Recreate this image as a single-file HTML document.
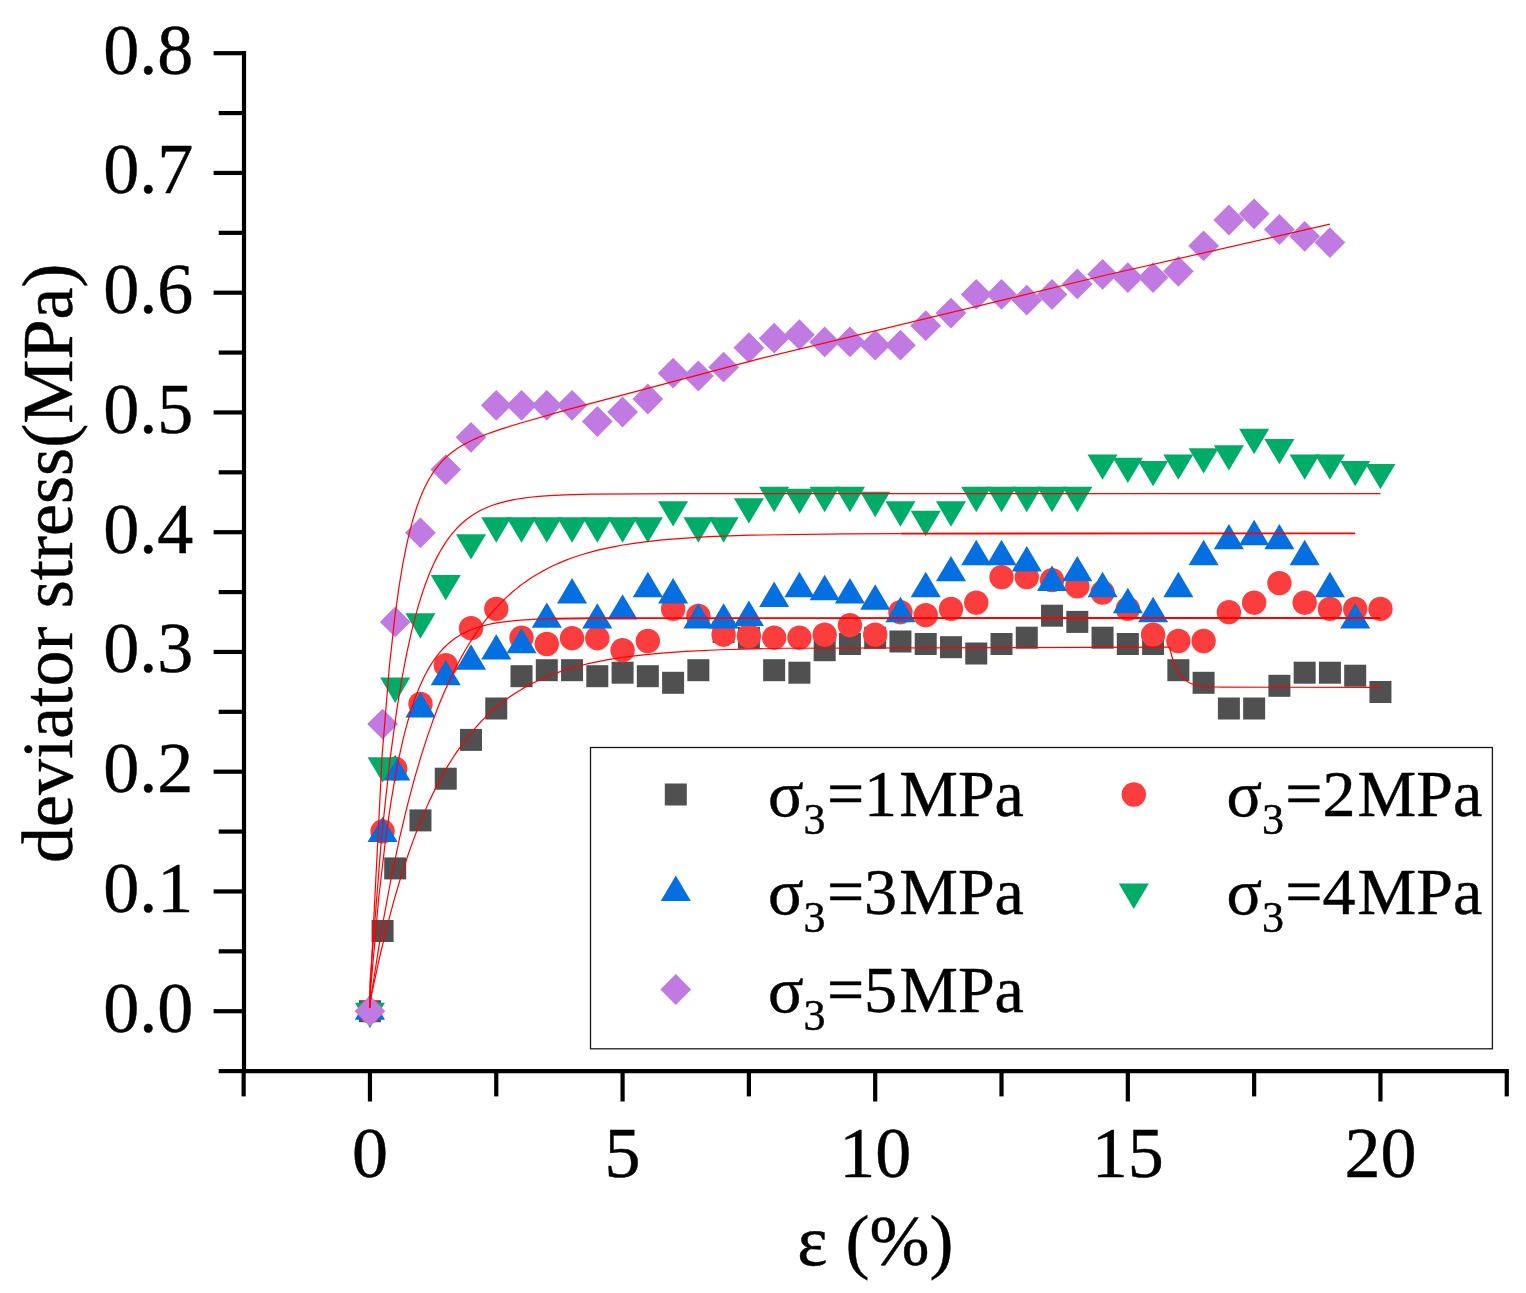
<!DOCTYPE html>
<html lang="en"><head><meta charset="utf-8"><title>deviator stress vs strain</title>
<style>html,body{margin:0;padding:0;background:#fff;}svg{display:block;}text{font-family:"Liberation Serif",serif;fill:#000;stroke:#000;stroke-width:0.45px;stroke-linejoin:round;}</style></head><body>
<svg width="1526" height="1293" viewBox="0 0 1526 1293">
<rect x="0" y="0" width="1526" height="1293" fill="#fff"/>
<g fill="#505050">
<rect x="358.95" y="1000.2" width="22" height="22"/>
<rect x="371.58" y="920" width="22" height="22"/>
<rect x="384.21" y="857.4" width="22" height="22"/>
<rect x="409.47" y="809.4" width="22" height="22"/>
<rect x="434.74" y="767.7" width="22" height="22"/>
<rect x="460" y="728.9" width="22" height="22"/>
<rect x="485.26" y="697.5" width="22" height="22"/>
<rect x="510.52" y="665.2" width="22" height="22"/>
<rect x="535.79" y="659.2" width="22" height="22"/>
<rect x="561.05" y="659.2" width="22" height="22"/>
<rect x="586.31" y="665.2" width="22" height="22"/>
<rect x="611.58" y="661.7" width="22" height="22"/>
<rect x="636.84" y="665.2" width="22" height="22"/>
<rect x="662.1" y="671.8" width="22" height="22"/>
<rect x="687.36" y="659.2" width="22" height="22"/>
<rect x="712.62" y="620.9" width="22" height="22"/>
<rect x="737.89" y="626.8" width="22" height="22"/>
<rect x="763.15" y="659.2" width="22" height="22"/>
<rect x="788.41" y="661.7" width="22" height="22"/>
<rect x="813.67" y="639.2" width="22" height="22"/>
<rect x="838.94" y="633" width="22" height="22"/>
<rect x="864.2" y="626.8" width="22" height="22"/>
<rect x="889.46" y="630.5" width="22" height="22"/>
<rect x="914.72" y="633" width="22" height="22"/>
<rect x="939.99" y="636.2" width="22" height="22"/>
<rect x="965.25" y="642.5" width="22" height="22"/>
<rect x="990.51" y="633" width="22" height="22"/>
<rect x="1015.77" y="626.7" width="22" height="22"/>
<rect x="1041.04" y="604.7" width="22" height="22"/>
<rect x="1066.3" y="610.9" width="22" height="22"/>
<rect x="1091.56" y="626.7" width="22" height="22"/>
<rect x="1116.83" y="633" width="22" height="22"/>
<rect x="1142.09" y="633" width="22" height="22"/>
<rect x="1167.35" y="659.2" width="22" height="22"/>
<rect x="1192.61" y="671.8" width="22" height="22"/>
<rect x="1217.88" y="697.5" width="22" height="22"/>
<rect x="1243.14" y="697.5" width="22" height="22"/>
<rect x="1268.4" y="674.8" width="22" height="22"/>
<rect x="1293.66" y="661.7" width="22" height="22"/>
<rect x="1318.92" y="661.7" width="22" height="22"/>
<rect x="1344.19" y="664.7" width="22" height="22"/>
<rect x="1369.45" y="681" width="22" height="22"/>
</g>
<g fill="#fc3d3d">
<circle cx="369.95" cy="1011.2" r="12.2"/>
<circle cx="382.58" cy="831.4" r="12.2"/>
<circle cx="395.21" cy="768.7" r="12.2"/>
<circle cx="420.47" cy="704" r="12.2"/>
<circle cx="445.74" cy="665.2" r="12.2"/>
<circle cx="471" cy="628.2" r="12.2"/>
<circle cx="496.26" cy="608.9" r="12.2"/>
<circle cx="521.52" cy="637.7" r="12.2"/>
<circle cx="546.79" cy="644" r="12.2"/>
<circle cx="572.05" cy="638.2" r="12.2"/>
<circle cx="597.31" cy="638.2" r="12.2"/>
<circle cx="622.58" cy="650.2" r="12.2"/>
<circle cx="647.84" cy="641" r="12.2"/>
<circle cx="673.1" cy="608.9" r="12.2"/>
<circle cx="698.36" cy="615.9" r="12.2"/>
<circle cx="723.62" cy="634.7" r="12.2"/>
<circle cx="748.89" cy="636" r="12.2"/>
<circle cx="774.15" cy="637.7" r="12.2"/>
<circle cx="799.41" cy="637.7" r="12.2"/>
<circle cx="824.67" cy="634.7" r="12.2"/>
<circle cx="849.94" cy="625.2" r="12.2"/>
<circle cx="875.2" cy="634.7" r="12.2"/>
<circle cx="900.46" cy="612.2" r="12.2"/>
<circle cx="925.72" cy="615.2" r="12.2"/>
<circle cx="950.99" cy="608.9" r="12.2"/>
<circle cx="976.25" cy="602.7" r="12.2"/>
<circle cx="1001.51" cy="577.1" r="12.2"/>
<circle cx="1026.77" cy="577.1" r="12.2"/>
<circle cx="1052.04" cy="580.1" r="12.2"/>
<circle cx="1077.3" cy="586.4" r="12.2"/>
<circle cx="1102.56" cy="592.6" r="12.2"/>
<circle cx="1127.83" cy="608.9" r="12.2"/>
<circle cx="1153.09" cy="634.7" r="12.2"/>
<circle cx="1178.35" cy="641" r="12.2"/>
<circle cx="1203.61" cy="641" r="12.2"/>
<circle cx="1228.88" cy="612.2" r="12.2"/>
<circle cx="1254.14" cy="602.7" r="12.2"/>
<circle cx="1279.4" cy="583.1" r="12.2"/>
<circle cx="1304.66" cy="602.7" r="12.2"/>
<circle cx="1329.92" cy="608.9" r="12.2"/>
<circle cx="1355.19" cy="608.9" r="12.2"/>
<circle cx="1380.45" cy="608.9" r="12.2"/>
</g>
<g fill="#046fe0">
<path d="M369.95 994.27L385 1019.67L354.9 1019.67Z"/>
<path d="M382.58 816.67L397.63 842.07L367.53 842.07Z"/>
<path d="M395.21 755.07L410.26 780.47L380.16 780.47Z"/>
<path d="M420.47 692.07L435.52 717.47L405.42 717.47Z"/>
<path d="M445.74 659.97L460.79 685.37L430.69 685.37Z"/>
<path d="M471 644.27L486.05 669.67L455.95 669.67Z"/>
<path d="M496.26 634.17L511.31 659.57L481.21 659.57Z"/>
<path d="M521.52 627.97L536.57 653.37L506.47 653.37Z"/>
<path d="M546.79 602.47L561.84 627.87L531.74 627.87Z"/>
<path d="M572.05 578.07L587.1 603.47L557 603.47Z"/>
<path d="M597.31 603.17L612.36 628.57L582.26 628.57Z"/>
<path d="M622.58 594.17L637.62 619.57L607.53 619.57Z"/>
<path d="M647.84 571.87L662.89 597.27L632.79 597.27Z"/>
<path d="M673.1 578.07L688.15 603.47L658.05 603.47Z"/>
<path d="M698.36 603.17L713.41 628.57L683.31 628.57Z"/>
<path d="M723.62 603.17L738.67 628.57L708.58 628.57Z"/>
<path d="M748.89 600.57L763.94 625.97L733.84 625.97Z"/>
<path d="M774.15 581.57L789.2 606.97L759.1 606.97Z"/>
<path d="M799.41 571.77L814.46 597.17L784.36 597.17Z"/>
<path d="M824.67 574.77L839.72 600.17L809.62 600.17Z"/>
<path d="M849.94 578.07L864.99 603.47L834.89 603.47Z"/>
<path d="M875.2 584.27L890.25 609.67L860.15 609.67Z"/>
<path d="M900.46 596.87L915.51 622.27L885.41 622.27Z"/>
<path d="M925.72 571.77L940.77 597.17L910.67 597.17Z"/>
<path d="M950.99 555.97L966.04 581.37L935.94 581.37Z"/>
<path d="M976.25 539.77L991.3 565.17L961.2 565.17Z"/>
<path d="M1001.51 539.77L1016.56 565.17L986.46 565.17Z"/>
<path d="M1026.77 546.07L1041.82 571.47L1011.72 571.47Z"/>
<path d="M1052.04 565.57L1067.09 590.97L1036.99 590.97Z"/>
<path d="M1077.3 555.97L1092.35 581.37L1062.25 581.37Z"/>
<path d="M1102.56 571.77L1117.61 597.17L1087.51 597.17Z"/>
<path d="M1127.83 587.77L1142.88 613.17L1112.78 613.17Z"/>
<path d="M1153.09 596.87L1168.14 622.27L1138.04 622.27Z"/>
<path d="M1178.35 571.77L1193.4 597.17L1163.3 597.17Z"/>
<path d="M1203.61 539.77L1218.66 565.17L1188.56 565.17Z"/>
<path d="M1228.88 523.97L1243.92 549.37L1213.83 549.37Z"/>
<path d="M1254.14 519.77L1269.19 545.17L1239.09 545.17Z"/>
<path d="M1279.4 523.97L1294.45 549.37L1264.35 549.37Z"/>
<path d="M1304.66 539.77L1319.71 565.17L1289.61 565.17Z"/>
<path d="M1329.92 571.77L1344.97 597.17L1314.88 597.17Z"/>
<path d="M1355.19 603.17L1370.24 628.57L1340.14 628.57Z"/>
</g>
<g fill="#00ad68">
<path d="M354.9 1002.73L385 1002.73L369.95 1028.13Z"/>
<path d="M367.53 757.13L397.63 757.13L382.58 782.53Z"/>
<path d="M380.16 677.53L410.26 677.53L395.21 702.93Z"/>
<path d="M405.42 613.23L435.52 613.23L420.47 638.63Z"/>
<path d="M430.69 574.93L460.79 574.93L445.74 600.33Z"/>
<path d="M455.95 534.13L486.05 534.13L471 559.53Z"/>
<path d="M481.21 517.33L511.31 517.33L496.26 542.73Z"/>
<path d="M506.47 517.33L536.57 517.33L521.52 542.73Z"/>
<path d="M531.74 517.33L561.84 517.33L546.79 542.73Z"/>
<path d="M557 517.33L587.1 517.33L572.05 542.73Z"/>
<path d="M582.26 517.33L612.36 517.33L597.31 542.73Z"/>
<path d="M607.53 517.33L637.62 517.33L622.58 542.73Z"/>
<path d="M632.79 517.33L662.89 517.33L647.84 542.73Z"/>
<path d="M658.05 501.13L688.15 501.13L673.1 526.53Z"/>
<path d="M683.31 517.33L713.41 517.33L698.36 542.73Z"/>
<path d="M708.58 517.33L738.67 517.33L723.62 542.73Z"/>
<path d="M733.84 498.13L763.94 498.13L748.89 523.53Z"/>
<path d="M759.1 486.83L789.2 486.83L774.15 512.23Z"/>
<path d="M784.36 488.63L814.46 488.63L799.41 514.03Z"/>
<path d="M809.62 486.83L839.72 486.83L824.67 512.23Z"/>
<path d="M834.89 486.83L864.99 486.83L849.94 512.23Z"/>
<path d="M860.15 491.83L890.25 491.83L875.2 517.23Z"/>
<path d="M885.41 501.33L915.51 501.33L900.46 526.73Z"/>
<path d="M910.67 510.83L940.77 510.83L925.72 536.23Z"/>
<path d="M935.94 501.33L966.04 501.33L950.99 526.73Z"/>
<path d="M961.2 486.83L991.3 486.83L976.25 512.23Z"/>
<path d="M986.46 486.83L1016.56 486.83L1001.51 512.23Z"/>
<path d="M1011.72 486.83L1041.82 486.83L1026.77 512.23Z"/>
<path d="M1036.99 486.83L1067.09 486.83L1052.04 512.23Z"/>
<path d="M1062.25 486.83L1092.35 486.83L1077.3 512.23Z"/>
<path d="M1087.51 454.43L1117.61 454.43L1102.56 479.83Z"/>
<path d="M1112.78 457.63L1142.88 457.63L1127.83 483.03Z"/>
<path d="M1138.04 460.93L1168.14 460.93L1153.09 486.33Z"/>
<path d="M1163.3 454.43L1193.4 454.43L1178.35 479.83Z"/>
<path d="M1188.56 448.13L1218.66 448.13L1203.61 473.53Z"/>
<path d="M1213.83 445.13L1243.92 445.13L1228.88 470.53Z"/>
<path d="M1239.09 428.83L1269.19 428.83L1254.14 454.23Z"/>
<path d="M1264.35 438.93L1294.45 438.93L1279.4 464.33Z"/>
<path d="M1289.61 454.43L1319.71 454.43L1304.66 479.83Z"/>
<path d="M1314.88 454.43L1344.97 454.43L1329.92 479.83Z"/>
<path d="M1340.14 460.93L1370.24 460.93L1355.19 486.33Z"/>
<path d="M1365.4 463.93L1395.5 463.93L1380.45 489.33Z"/>
</g>
<g fill="#c17ae2">
<path d="M369.95 995.8L385.35 1011.2L369.95 1026.6L354.55 1011.2Z"/>
<path d="M382.58 708.7L397.98 724.1L382.58 739.5L367.18 724.1Z"/>
<path d="M395.21 606.5L410.61 621.9L395.21 637.3L379.81 621.9Z"/>
<path d="M420.47 517.4L435.87 532.8L420.47 548.2L405.07 532.8Z"/>
<path d="M445.74 454.2L461.14 469.6L445.74 485L430.34 469.6Z"/>
<path d="M471 421.9L486.4 437.3L471 452.7L455.6 437.3Z"/>
<path d="M496.26 389.9L511.66 405.3L496.26 420.7L480.86 405.3Z"/>
<path d="M521.52 389.9L536.92 405.3L521.52 420.7L506.12 405.3Z"/>
<path d="M546.79 389.9L562.19 405.3L546.79 420.7L531.39 405.3Z"/>
<path d="M572.05 389.9L587.45 405.3L572.05 420.7L556.65 405.3Z"/>
<path d="M597.31 406.1L612.71 421.5L597.31 436.9L581.91 421.5Z"/>
<path d="M622.58 396.6L637.98 412L622.58 427.4L607.18 412Z"/>
<path d="M647.84 383.6L663.24 399L647.84 414.4L632.44 399Z"/>
<path d="M673.1 357.8L688.5 373.2L673.1 388.6L657.7 373.2Z"/>
<path d="M698.36 360.6L713.76 376L698.36 391.4L682.96 376Z"/>
<path d="M723.62 351.8L739.02 367.2L723.62 382.6L708.23 367.2Z"/>
<path d="M748.89 332.3L764.29 347.7L748.89 363.1L733.49 347.7Z"/>
<path d="M774.15 322.8L789.55 338.2L774.15 353.6L758.75 338.2Z"/>
<path d="M799.41 319.3L814.81 334.7L799.41 350.1L784.01 334.7Z"/>
<path d="M824.67 326.5L840.07 341.9L824.67 357.3L809.27 341.9Z"/>
<path d="M849.94 326.5L865.34 341.9L849.94 357.3L834.54 341.9Z"/>
<path d="M875.2 329.8L890.6 345.2L875.2 360.6L859.8 345.2Z"/>
<path d="M900.46 329.8L915.86 345.2L900.46 360.6L885.06 345.2Z"/>
<path d="M925.72 310.3L941.12 325.7L925.72 341.1L910.32 325.7Z"/>
<path d="M950.99 297.7L966.39 313.1L950.99 328.5L935.59 313.1Z"/>
<path d="M976.25 279L991.65 294.4L976.25 309.8L960.85 294.4Z"/>
<path d="M1001.51 279L1016.91 294.4L1001.51 309.8L986.11 294.4Z"/>
<path d="M1026.77 284.7L1042.17 300.1L1026.77 315.5L1011.37 300.1Z"/>
<path d="M1052.04 279L1067.44 294.4L1052.04 309.8L1036.64 294.4Z"/>
<path d="M1077.3 268.5L1092.7 283.9L1077.3 299.3L1061.9 283.9Z"/>
<path d="M1102.56 258.9L1117.96 274.3L1102.56 289.7L1087.16 274.3Z"/>
<path d="M1127.83 262.2L1143.23 277.6L1127.83 293L1112.42 277.6Z"/>
<path d="M1153.09 262.2L1168.49 277.6L1153.09 293L1137.69 277.6Z"/>
<path d="M1178.35 255.9L1193.75 271.3L1178.35 286.7L1162.95 271.3Z"/>
<path d="M1203.61 230.4L1219.01 245.8L1203.61 261.2L1188.21 245.8Z"/>
<path d="M1228.88 204.6L1244.28 220L1228.88 235.4L1213.47 220Z"/>
<path d="M1254.14 198.4L1269.54 213.8L1254.14 229.2L1238.74 213.8Z"/>
<path d="M1279.4 214.1L1294.8 229.5L1279.4 244.9L1264 229.5Z"/>
<path d="M1304.66 220.9L1320.06 236.3L1304.66 251.7L1289.26 236.3Z"/>
<path d="M1329.92 227.2L1345.33 242.6L1329.92 258L1314.52 242.6Z"/>
</g>
<g fill="none" stroke="#ff0000" stroke-width="1.2" stroke-linejoin="round">
<path d="M369.8 1007.8L369.95 1002.18L378.95 960.01L386.94 926.75L394.34 899.14L401.13 876.18L407.33 857.07L413.13 840.64L418.72 826L423.92 813.4L428.92 802.12L433.91 791.61L438.71 782.19L443.31 773.74L447.71 766.15L452.1 759.02L456.3 752.61L460.5 746.57L464.7 740.87L468.7 735.75L472.69 730.91L476.69 726.33L480.69 722.01L484.69 717.92L488.68 714.05L492.68 710.4L496.68 706.94L500.68 703.68L504.68 700.59L508.87 697.53L513.27 694.51L517.67 691.67L522.27 688.89L526.86 686.28L531.66 683.73L536.66 681.25L541.85 678.85L547.25 676.53L552.85 674.31L558.85 672.12L565.24 669.97L572.04 667.9L579.23 665.9L587.03 663.96L595.63 662.05L605.22 660.17L616.01 658.35L628.61 656.53L643.4 654.78L661.79 653.05L685.78 651.37L720.56 649.75L783.72 648.24L1161.31 647.19L1169.51 647.19L1169.51 647.19L1170.67 651.95L1171.72 655.78L1172.72 659.04L1173.67 661.82L1174.57 664.19L1175.47 666.34L1176.31 668.18L1177.15 669.86L1178 671.39L1178.79 672.7L1179.63 673.99L1180.42 675.09L1181.22 676.1L1182.06 677.08L1182.9 677.98L1183.75 678.8L1184.64 679.59L1185.54 680.31L1186.44 680.97L1187.39 681.59L1188.39 682.18L1189.44 682.74L1190.5 683.24L1191.6 683.7L1192.76 684.14L1194.03 684.55L1195.4 684.93L1196.93 685.3L1198.62 685.64L1200.52 685.96L1202.73 686.25L1205.42 686.53L1208.9 686.78L1213.91 687.02L1223.3 687.22L1380.45 687.34"/>
<path d="M369.8 1007.8L369.95 996.42L378.73 897.98L385.41 840.57L390.82 802.83L395.37 776.12L399.33 756.03L402.87 740.2L406.1 727.38L409.06 716.82L411.83 707.84L414.38 700.32L416.79 693.78L419.06 688.09L421.29 682.92L423.38 678.42L425.43 674.32L427.43 670.58L429.38 667.16L431.25 664.11L433.11 661.25L434.98 658.57L436.79 656.11L438.57 653.86L440.34 651.74L442.16 649.69L443.98 647.77L445.75 646.01L447.53 644.35L449.39 642.72L451.25 641.18L453.12 639.74L455.03 638.36L457.03 637L459.08 635.71L461.17 634.48L463.31 633.31L465.53 632.18L467.81 631.11L470.26 630.05L472.81 629.04L475.49 628.06L478.36 627.12L481.4 626.21L484.68 625.33L488.27 624.47L492.23 623.64L496.68 622.84L501.77 622.05L507.73 621.3L514.96 620.56L524.24 619.85L537.29 619.16L551.84 618.69"/>
<path stroke-width="1.9" d="M551.84 618.69L596.17 618.11L1380.45 617.95"/>
<path d="M369.8 1007.8L369.95 1003.25L381.36 931.13L391.17 878.01L399.79 837.23L407.48 804.93L414.51 778.43L421.14 755.81L427.25 736.84L432.95 720.58L438.39 706.28L443.43 694.01L448.33 682.9L452.98 673.1L457.48 664.19L461.86 656.09L466.11 648.71L470.22 641.99L474.33 635.66L478.31 629.88L482.29 624.43L486.13 619.46L489.98 614.75L493.82 610.31L497.67 606.1L501.38 602.26L505.1 598.63L508.81 595.18L512.66 591.8L516.5 588.61L520.35 585.59L524.33 582.64L528.44 579.77L532.55 577.07L536.8 574.44L541.17 571.9L545.68 569.44L550.32 567.08L555.1 564.81L560.14 562.58L565.44 560.4L571.01 558.29L576.85 556.25L583.08 554.26L589.71 552.33L596.88 550.45L604.7 548.6L613.32 546.8L623 545.03L634.01 543.3L646.88 541.6L662.4 539.93L682.02 538.3L708.68 536.71L750.33 535.19L844.49 533.83L900.46 533.58"/>
<path stroke-width="1.9" d="M900.46 533.58L1355.19 533.37"/>
<path d="M369.8 1007.8L369.95 982.82L381.57 837.09L389.91 760.11L396.48 711.82L402.03 677.86L406.83 652.81L411.13 633.3L414.92 618.08L418.45 605.37L421.74 594.74L424.77 585.82L427.55 578.34L430.33 571.46L432.85 565.7L435.38 560.36L437.65 555.89L439.93 551.73L442.2 547.84L444.73 543.82L447 540.46L449.27 537.32L451.55 534.4L453.82 531.67L456.1 529.12L458.37 526.74L460.64 524.52L462.92 522.45L465.19 520.52L467.46 518.71L469.74 517.03L472.01 515.46L474.28 514L476.81 512.48L479.34 511.08L481.86 509.78L484.64 508.47L487.42 507.26L490.45 506.05L493.48 504.95L496.77 503.86L500.3 502.81L504.09 501.8L508.14 500.85L512.68 499.9L517.74 499L523.55 498.11L530.37 497.26L538.7 496.42L549.57 495.61L564.72 494.85L591 494.13L688.51 493.57L1380.45 493.54"/>
<path d="M369.8 1007.8L369.95 994.14L382.19 754.33L389.39 666.32L394.91 616.43L399.23 585.44L402.83 563.95L406.19 546.86L409.07 534.15L411.71 523.87L414.11 515.51L416.51 508L418.67 501.87L420.83 496.3L422.75 491.75L424.67 487.57L426.59 483.7L428.27 480.56L430.19 477.22L432.11 474.13L434.03 471.26L435.95 468.6L437.87 466.13L439.79 463.83L441.71 461.68L443.63 459.67L445.55 457.79L447.71 455.82L449.87 453.98L452.03 452.26L454.43 450.47L456.83 448.81L459.47 447.1L462.11 445.51L464.99 443.88L468.11 442.24L471.71 440.47L475.79 438.61L480.59 436.57L486.35 434.31L493.79 431.61L504.11 428.15L521.63 422.72L568.42 409.35L758.02 359.17L1104.09 275.53L1329.92 224.21"/>
</g>
<g stroke="#000" stroke-width="4.2" fill="none" stroke-linecap="butt">
<path d="M244 51.1V1073.2"/>
<path d="M241.9 1071.1H1508.86"/>
<path d="M218.7 1071.08H244"/>
<path d="M213.6 1011.2H244"/>
<path d="M218.7 951.33H244"/>
<path d="M213.6 891.45H244"/>
<path d="M218.7 831.58H244"/>
<path d="M213.6 771.7H244"/>
<path d="M218.7 711.83H244"/>
<path d="M213.6 651.95H244"/>
<path d="M218.7 592.08H244"/>
<path d="M213.6 532.2H244"/>
<path d="M218.7 472.33H244"/>
<path d="M213.6 412.45H244"/>
<path d="M218.7 352.58H244"/>
<path d="M213.6 292.7H244"/>
<path d="M218.7 232.83H244"/>
<path d="M213.6 172.95H244"/>
<path d="M218.7 113.08H244"/>
<path d="M213.6 53.2H244"/>
<path d="M243.64 1071.1V1096.4"/>
<path d="M369.95 1071.1V1101.5"/>
<path d="M496.26 1071.1V1096.4"/>
<path d="M622.58 1071.1V1101.5"/>
<path d="M748.89 1071.1V1096.4"/>
<path d="M875.2 1071.1V1101.5"/>
<path d="M1001.51 1071.1V1096.4"/>
<path d="M1127.83 1071.1V1101.5"/>
<path d="M1254.14 1071.1V1096.4"/>
<path d="M1380.45 1071.1V1101.5"/>
<path d="M1506.76 1071.1V1096.4"/>
</g>
<g font-size="72" text-anchor="end">
<text x="193.2" y="1031.7">0.0</text>
<text x="193.2" y="911.95">0.1</text>
<text x="193.2" y="792.2">0.2</text>
<text x="193.2" y="672.45">0.3</text>
<text x="193.2" y="552.7">0.4</text>
<text x="193.2" y="432.95">0.5</text>
<text x="193.2" y="313.2">0.6</text>
<text x="193.2" y="193.45">0.7</text>
<text x="193.2" y="73.7">0.8</text>
</g>
<g font-size="72" text-anchor="middle">
<text x="369.95" y="1176.9">0</text>
<text x="622.58" y="1176.9">5</text>
<text x="875.2" y="1176.9">10</text>
<text x="1127.83" y="1176.9">15</text>
<text x="1380.45" y="1176.9">20</text>
</g>
<text font-size="72" text-anchor="middle" x="875.4" y="1264.6">ε (%)</text>
<text font-size="72" text-anchor="middle" letter-spacing="0.09" transform="translate(71.9 563.2) rotate(-90)">deviator stress(MPa)</text>
<rect x="590.5" y="747.5" width="901.9" height="301.3" fill="#fff" stroke="#1a1a1a" stroke-width="1.3"/>
<g fill="#505050"><rect x="664.8" y="783.5" width="22" height="22"/></g>
<g fill="#fc3d3d"><circle cx="1133.8" cy="794.5" r="12.2"/></g>
<g fill="#046fe0"><path d="M675.8 875.57L690.85 900.97L660.75 900.97Z"/></g>
<g fill="#00ad68"><path d="M1118.75 883.53L1148.85 883.53L1133.8 908.93Z"/></g>
<g fill="#c17ae2"><path d="M675.8 974.1L691.2 989.5L675.8 1004.9L660.4 989.5Z"/></g>
<text font-size="66" x="768" y="816.3">σ<tspan font-size="44" dy="18">3</tspan><tspan dy="-18" dx="1.3">=1</tspan><tspan dx="2.1">MPa</tspan></text>
<text font-size="66" x="1226.4" y="816.3">σ<tspan font-size="44" dy="18">3</tspan><tspan dy="-18" dx="1.3">=2</tspan><tspan dx="2.1">MPa</tspan></text>
<text font-size="66" x="768" y="913.9">σ<tspan font-size="44" dy="18">3</tspan><tspan dy="-18" dx="1.3">=3</tspan><tspan dx="2.1">MPa</tspan></text>
<text font-size="66" x="1226.4" y="913.9">σ<tspan font-size="44" dy="18">3</tspan><tspan dy="-18" dx="1.3">=4</tspan><tspan dx="2.1">MPa</tspan></text>
<text font-size="66" x="768" y="1011.5">σ<tspan font-size="44" dy="18">3</tspan><tspan dy="-18" dx="1.3">=5</tspan><tspan dx="2.1">MPa</tspan></text>
</svg></body></html>
